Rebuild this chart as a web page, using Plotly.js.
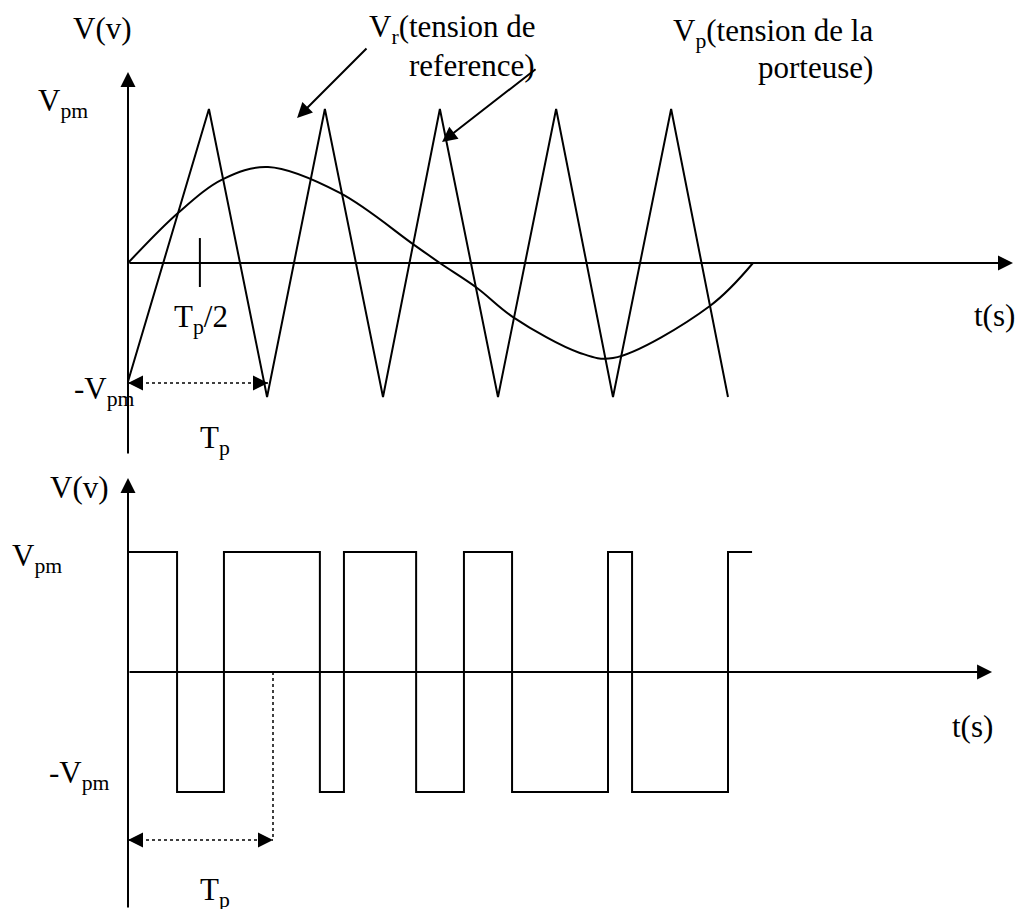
<!DOCTYPE html>
<html>
<head>
<meta charset="utf-8">
<script src="https://cdn.plot.ly/plotly-3.0.1.min.js"></script>
<style>html,body{margin:0;padding:0;background:#fff;}#chart{width:1017px;height:909px;}</style>
</head>
<body>
<div id="chart"></div>
<script>
// Time in ms (reference period 20 ms), voltage normalised to Vpm = 1.
// Carrier (triangle) vertices
const carrierT = [0, 2.59, 4.45, 6.30, 8.16, 9.98, 11.84, 13.70, 15.52, 17.38, 19.20];
const carrierV = [-0.77, 1, -0.87, 1, -0.87, 1, -0.87, 1, -0.87, 1, -0.87];
// Reference (sine-like) curve points
const refT = [0, 1.60, 3.04, 4.48, 6.78, 9.12, 9.98, 11.17, 12.32, 14.46, 15.52, 18.62, 20.0];
const refV = [0, 0.325, 0.545, 0.623, 0.455, 0.123, 0, -0.162, -0.351, -0.584, -0.617, -0.279, 0];
// PWM output: switching instants and levels
const pwmT = [0, 1.57, 3.07, 6.14, 6.91, 9.22, 10.75, 12.29, 15.36, 16.13, 19.20, 19.97];
const pwmV = [1, -1, 1, -1, 1, -1, 1, -1, 1, -1, 1, 1];

const W = 1017, H = 909;
const px = x => x / W;
const py = y => 1 - y / H;
const FONT = {family: '"Liberation Serif", "Times New Roman", serif', size: 31, color: '#000'};

const lineStyle = {color: '#000', width: 2};
const traces = [
  {x: carrierT, y: carrierV, mode: 'lines', line: lineStyle, xaxis: 'x', yaxis: 'y', hoverinfo: 'skip'},
  {x: refT, y: refV, mode: 'lines', line: {color: '#000', width: 2, shape: 'spline', smoothing: 1}, xaxis: 'x', yaxis: 'y', hoverinfo: 'skip'},
  {x: pwmT, y: pwmV, mode: 'lines', line: {color: '#000', width: 2, shape: 'hv'}, xaxis: 'x2', yaxis: 'y2', hoverinfo: 'skip'}
];

function axisArrow(xr, yr, x, y, ax, ay) {
  return {xref: xr, yref: yr, axref: xr, ayref: yr, x: x, y: y, ax: ax, ay: ay, text: '',
    showarrow: true, arrowhead: 2, arrowsize: 1.5, arrowwidth: 2, arrowcolor: '#000', standoff: 0};
}
function headOnly(xr, yr, x, y, dx) {
  return {xref: xr, yref: yr, x: x, y: y, ax: dx, ay: 0, text: '',
    showarrow: true, arrowhead: 2, arrowsize: 3, arrowwidth: 1, arrowcolor: '#000', standoff: 0};
}
function label(text, x, y, xanchor) {
  return {xref: 'paper', yref: 'paper', x: px(x), y: py(y), text: text, showarrow: false,
    xanchor: xanchor || 'center', yanchor: 'middle', font: FONT};
}

const annotations = [
  // axes (top)
  axisArrow('x', 'y', 28.32, 0, 0, 0),
  axisArrow('x', 'y', 0, 1.24, 0, -1.247),
  // axes (bottom)
  axisArrow('x2', 'y2', 27.65, 0, 0, 0),
  axisArrow('x2', 'y2', 0, 1.617, 0, -1.975),
  // pointer arrows
  axisArrow('x', 'y', 5.41, 0.942, 7.68, 1.403),
  axisArrow('x', 'y', 10.05, 0.786, 13.09, 1.266),
  // dotted Tp arrow heads
  headOnly('x', 'y', 0, -0.779, 14),
  headOnly('x', 'y', 4.48, -0.779, -14),
  headOnly('x2', 'y2', 0, -1.4, 14),
  headOnly('x2', 'y2', 4.64, -1.4, -14),
  // texts
  label('V(v)', 102, 28),
  label('V<sub>pm</sub>', 36, 103, 'left'),
  label('V<sub>r</sub>(tension de', 538, 29, 'right'),
  label('reference)', 537, 66, 'right'),
  label('V<sub>p</sub>(tension de la', 875, 33, 'right'),
  label('porteuse)', 875, 68, 'right'),
  label('T<sub>p</sub>/2', 201, 319),
  label('-V<sub>pm</sub>', 72, 391, 'left'),
  label('T<sub>p</sub>', 215, 440),
  label('t(s)', 994, 315),
  label('V(v)', 79, 487),
  label('V<sub>pm</sub>', 10, 558, 'left'),
  label('-V<sub>pm</sub>', 47, 775, 'left'),
  label('T<sub>p</sub>', 215, 892),
  label('t(s)', 972, 726)
];

const shapes = [
  // Tp/2 tick
  {type: 'line', xref: 'x', yref: 'y', x0: 2.30, x1: 2.30, y0: 0.162, y1: -0.156, line: {color: '#000', width: 2}},
  // dotted Tp lines
  {type: 'line', xref: 'x', yref: 'y', x0: 0, x1: 4.48, y0: -0.779, y1: -0.779, line: {color: '#000', width: 1.5, dash: 'dot'}},
  {type: 'line', xref: 'x2', yref: 'y2', x0: 0, x1: 4.64, y0: -1.4, y1: -1.4, line: {color: '#000', width: 1.5, dash: 'dot'}},
  {type: 'line', xref: 'x2', yref: 'y2', x0: 4.64, x1: 4.64, y0: 0, y1: -1.4, line: {color: '#000', width: 1.5, dash: 'dot'}}
];

const hidden = {visible: false, showgrid: false, zeroline: false, fixedrange: true};
const layout = {
  width: W, height: H,
  margin: {l: 0, r: 0, t: 0, b: 0, pad: 0},
  paper_bgcolor: '#fff', plot_bgcolor: 'rgba(0,0,0,0)',
  showlegend: false,
  xaxis: Object.assign({domain: [0, 1], range: [-4.096, 28.448], anchor: 'y'}, hidden),
  yaxis: Object.assign({domain: [0.48845, 1], range: [-1.3117, 1.7078], anchor: 'x'}, hidden),
  xaxis2: Object.assign({domain: [0, 1], range: [-4.096, 28.448], anchor: 'y2'}, hidden),
  yaxis2: Object.assign({domain: [0, 0.48845], range: [-1.975, 1.725], anchor: 'x2'}, hidden),
  annotations: annotations,
  shapes: shapes
};

Plotly.newPlot('chart', traces, layout, {displayModeBar: false, staticPlot: true});
</script>
</body>
</html>
